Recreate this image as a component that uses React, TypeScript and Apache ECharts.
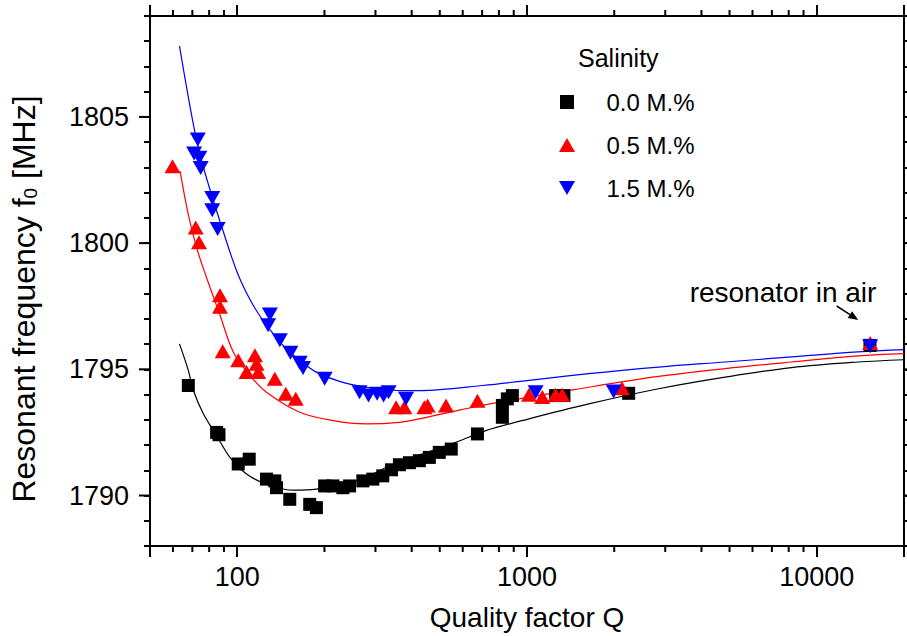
import React, { useEffect, useRef } from 'react';
import * as echarts from 'echarts';

// ---------- data ----------
// Salinity 0.0 M.% (black squares)
const Q_00 = [67.8, 84.9, 86.5, 100.8, 110.0, 126.2, 134.8, 136.6, 151.8, 177.9, 187.6, 200.3, 213.9, 231.5, 244.2, 271.3, 293.7, 317.9, 340.6, 362.8, 392.8, 425.1, 460.2, 498.1, 547.8, 674.5, 822.2, 822.2, 855.3, 890.2, 1255, 1341, 2243, 15260];
const F_00 = [1794.36, 1792.50, 1792.41, 1791.25, 1791.44, 1790.65, 1790.58, 1790.31, 1789.85, 1789.65, 1789.52, 1790.38, 1790.38, 1790.31, 1790.38, 1790.58, 1790.65, 1790.78, 1791.02, 1791.22, 1791.30, 1791.38, 1791.51, 1791.71, 1791.84, 1792.44, 1793.10, 1793.57, 1793.83, 1793.96, 1793.96, 1793.96, 1794.05, 1795.95];
// Salinity 0.5 M.% (red triangles)
const Q_05 = [59.8, 71.9, 73.8, 87.2, 87.2, 89.1, 100.8, 107.7, 115.1, 116.6, 118.1, 134.8, 147.1, 159.2, 353.4, 377.5, 442.3, 453.9, 525.3, 674.5, 1016, 1129, 1255, 1322, 2127, 15290];
const F_05 = [1803.05, 1800.62, 1800.04, 1797.94, 1797.48, 1795.72, 1795.36, 1794.89, 1795.56, 1795.22, 1794.89, 1794.63, 1794.03, 1793.83, 1793.50, 1793.50, 1793.50, 1793.57, 1793.57, 1793.76, 1793.99, 1793.90, 1793.99, 1793.99, 1794.25, 1796.04];
// Salinity 1.5 M.% (blue inverted triangles)
const Q_15 = [73.1, 71.0, 74.0, 74.8, 82.0, 82.0, 85.6, 129.6, 127.8, 140.3, 152.6, 164.3, 168.7, 200.3, 264.3, 283.8, 303.9, 319.9, 333.0, 382.5, 1071, 1991, 15290];
const F_15 = [1804.11, 1803.55, 1803.38, 1802.98, 1801.79, 1801.30, 1800.56, 1797.17, 1796.75, 1796.15, 1795.66, 1795.26, 1795.05, 1794.63, 1794.09, 1793.96, 1794.03, 1793.96, 1794.09, 1793.83, 1794.09, 1794.12, 1795.91];

// fitted curves
const FIT_Q_00 = [63.2, 67.8, 70.6, 76.4, 84.9, 94.4, 107.7, 126.2, 155.8, 187.6, 244.2, 301.6, 335.2, 568.5, 721.0, 1016, 1634, 2845, 4827, 8178, 13875, 20000];
const FIT_F_00 = [1796.01, 1794.96, 1794.16, 1793.24, 1792.37, 1791.51, 1790.85, 1790.45, 1790.21, 1790.25, 1790.51, 1790.91, 1791.18, 1792.11, 1792.57, 1793.04, 1793.63, 1794.23, 1794.69, 1795.07, 1795.29, 1795.38];
const FIT_Q_05 = [63.5, 67.8, 72.5, 78.5, 87.2, 96.9, 110.6, 126.2, 164.3, 213.9, 278.7, 362.8, 425.1, 702, 1634, 2845, 4827, 8178, 13875, 20000];
const FIT_F_05 = [1802.85, 1801.13, 1799.80, 1798.61, 1797.15, 1795.69, 1794.76, 1794.09, 1793.30, 1792.97, 1792.84, 1792.90, 1793.04, 1793.57, 1794.29, 1794.72, 1795.03, 1795.29, 1795.53, 1795.62];
const FIT_Q_15 = [63.2, 71.5, 77.4, 89.5, 100.8, 113.5, 126.2, 143.9, 164.3, 187.6, 225.5, 278.7, 362.8, 425.1, 702, 1634, 2845, 4827, 8178, 13875, 20000];
const FIT_F_15 = [1807.82, 1804.38, 1802.79, 1800.46, 1798.74, 1797.54, 1796.75, 1795.95, 1795.36, 1794.89, 1794.52, 1794.29, 1794.16, 1794.16, 1794.36, 1794.83, 1795.09, 1795.29, 1795.49, 1795.69, 1795.78];

const SERIES_NAMES = ['0.0 M.%', '0.5 M.%', '1.5 M.%'];
const SERIES_COLORS = ['#000000', '#ff0000', '#0000ff'];
const X_MIN = 50;
const X_MAX = 20000;
const Y_MIN = 1788;
const Y_MAX = 1809;
const MINOR_X_TICKS = [60, 70, 80, 90, 200, 300, 400, 500, 600, 700, 800, 900, 2000, 3000, 4000, 5000, 6000, 7000, 8000, 9000];
const MAJOR_Y_TICKS = [1790, 1795, 1800, 1805];

const FONT = '"Liberation Sans", Arial, Helvetica, sans-serif';
const SQUARE = 'path://M0,0L10,0L10,10L0,10Z';
const TRI_UP = 'path://M8,0L16,14L0,14Z';
const TRI_DOWN = 'path://M0,0L16,0L8,14Z';

const zip = (a: number[], b: number[]) => a.map((v, i) => [v, b[i]]);

const axisLineStyle = { show: true, onZero: false, lineStyle: { color: '#000', width: 2 } };

export default function App() {
  const ref = useRef<HTMLDivElement>(null);
  useEffect(() => {
    if (!ref.current) return;
    const chart = echarts.init(ref.current, undefined, { renderer: 'svg' });
    const xFormatter = (v: number) => {
      const l = Math.log10(v);
      return Math.abs(l - Math.round(l)) < 1e-6 ? String(Math.round(v)) : '';
    };
    const yFormatter = (v: number) => (Math.abs(v % 5) < 1e-6 ? String(v) : '');
    const option: any = {
      animation: false,
      backgroundColor: '#ffffff',
      textStyle: { fontFamily: FONT },
      title: {
        text: 'Salinity',
        left: 578,
        top: 45,
        padding: 0,
        textStyle: { fontSize: 25, fontWeight: 'normal', color: '#000', fontFamily: FONT },
      },
      legend: {
        orient: 'vertical',
        left: 559,
        top: 90,
        padding: 0,
        itemWidth: 69,
        itemHeight: 14,
        itemGap: 19,
        selectedMode: false,
        symbolKeepAspect: true,
        textStyle: { fontSize: 24, color: '#000', fontFamily: FONT },
        data: [
          { name: SERIES_NAMES[0], icon: SQUARE },
          { name: SERIES_NAMES[1], icon: TRI_UP },
          { name: SERIES_NAMES[2], icon: TRI_DOWN },
        ],
      },
      grid: { left: 150, top: 16, width: 756, height: 530 },
      xAxis: [
        {
          type: 'log',
          logBase: 10,
          min: X_MIN,
          max: X_MAX,
          position: 'bottom',
          name: 'Quality factor Q',
          nameLocation: 'middle',
          nameGap: 57,
          nameTextStyle: { fontSize: 28, color: '#000', fontFamily: FONT },
          axisLine: axisLineStyle,
          axisTick: { show: true, inside: false, length: 11, lineStyle: { color: '#000', width: 2 } },
          axisLabel: { fontSize: 27, color: '#000', margin: 17, formatter: xFormatter, fontFamily: FONT },
          splitLine: { show: false },
          minorTick: { show: false },
        },
        {
          type: 'log',
          logBase: 10,
          min: X_MIN,
          max: X_MAX,
          position: 'top',
          axisLine: axisLineStyle,
          axisTick: { show: true, inside: false, length: 11, lineStyle: { color: '#000', width: 2 } },
          axisLabel: { show: false },
          splitLine: { show: false },
        },
      ],
      yAxis: [
        {
          type: 'value',
          min: Y_MIN,
          max: Y_MAX,
          interval: 1,
          position: 'left',
          axisLine: axisLineStyle,
          axisTick: { show: true, inside: false, length: 6, lineStyle: { color: '#000', width: 2 } },
          axisLabel: { fontSize: 27, color: '#000', margin: 21, formatter: yFormatter, fontFamily: FONT },
          splitLine: { show: false },
          name: 'Resonant frequency f{sub|0} [MHz]',
          nameLocation: 'middle',
          nameGap: 110,
          nameRotate: 90,
          nameTextStyle: {
            fontSize: 32,
            color: '#000',
            fontFamily: FONT,
            padding: [0, 36, 0, 0],
            rich: {
              sub: { fontSize: 19, lineHeight: 25, verticalAlign: 'bottom', color: '#000', fontFamily: FONT },
            },
          },
        },
        {
          type: 'value',
          min: Y_MIN,
          max: Y_MAX,
          interval: 1,
          position: 'right',
          axisLine: axisLineStyle,
          axisTick: { show: true, inside: false, length: 6, lineStyle: { color: '#000', width: 2 } },
          axisLabel: { show: false },
          splitLine: { show: false },
        },
      ],
      graphic: [
        {
          type: 'text',
          x: 783,
          y: 292,
          style: {
            text: 'resonator in air',
            fontSize: 28,
            fontFamily: FONT,
            fill: '#000',
            align: 'center',
            verticalAlign: 'middle',
          },
        },
        {
          type: 'line',
          shape: { x1: 836.7, y1: 306, x2: 850, y2: 314.6 },
          style: { stroke: '#000', lineWidth: 1.5 },
        },
        {
          type: 'polygon',
          shape: { points: [[858.3, 320], [852.1, 311.2], [847.7, 318.0]] },
          style: { fill: '#000' },
        },
      ],
      series: [
        {
          type: 'custom',
          name: 'minorXTicks',
          silent: true,
          clip: false,
          xAxisIndex: 0,
          yAxisIndex: 0,
          z: 5,
          data: MINOR_X_TICKS.map((v) => [v, Y_MIN]),
          encode: { x: 0, y: 1 },
          renderItem: (params: any, api: any) => {
            const v = api.value(0);
            const b = api.coord([v, Y_MIN]);
            const t = api.coord([v, Y_MAX]);
            return {
              type: 'group',
              children: [
                { type: 'line', shape: { x1: b[0], y1: b[1], x2: b[0], y2: b[1] + 6 }, style: { stroke: '#000', lineWidth: 2 } },
                { type: 'line', shape: { x1: t[0], y1: t[1], x2: t[0], y2: t[1] - 6 }, style: { stroke: '#000', lineWidth: 2 } },
              ],
            };
          },
        },
        {
          type: 'custom',
          name: 'majorYTicks',
          silent: true,
          clip: false,
          xAxisIndex: 0,
          yAxisIndex: 0,
          z: 5,
          data: MAJOR_Y_TICKS.map((v) => [X_MIN, v]),
          encode: { x: 0, y: 1 },
          renderItem: (params: any, api: any) => {
            const v = api.value(1);
            const l = api.coord([X_MIN, v]);
            const r = api.coord([X_MAX, v]);
            return {
              type: 'group',
              children: [
                { type: 'line', shape: { x1: l[0] - 11, y1: l[1], x2: l[0], y2: l[1] }, style: { stroke: '#000', lineWidth: 2 } },
                { type: 'line', shape: { x1: r[0], y1: r[1], x2: r[0] + 11, y2: r[1] }, style: { stroke: '#000', lineWidth: 2 } },
              ],
            };
          },
        },
        {
          type: 'line',
          name: 'fit 0.0',
          data: zip(FIT_Q_00, FIT_F_00),
          showSymbol: false,
          symbol: 'none',
          smooth: 0.35,
          silent: true,
          z: 1,
          lineStyle: { color: SERIES_COLORS[0], width: 1.2 },
        },
        {
          type: 'line',
          name: 'fit 0.5',
          data: zip(FIT_Q_05, FIT_F_05),
          showSymbol: false,
          symbol: 'none',
          smooth: 0.35,
          silent: true,
          z: 1,
          lineStyle: { color: SERIES_COLORS[1], width: 1.2 },
        },
        {
          type: 'line',
          name: 'fit 1.5',
          data: zip(FIT_Q_15, FIT_F_15),
          showSymbol: false,
          symbol: 'none',
          smooth: 0.35,
          silent: true,
          z: 1,
          lineStyle: { color: SERIES_COLORS[2], width: 1.2 },
        },
        {
          type: 'scatter',
          name: SERIES_NAMES[0],
          data: zip(Q_00, F_00),
          symbol: 'rect',
          symbolSize: 13,
          z: 3,
          itemStyle: { color: SERIES_COLORS[0], opacity: 1 },
        },
        {
          type: 'scatter',
          name: SERIES_NAMES[1],
          data: zip(Q_05, F_05),
          symbol: 'triangle',
          symbolSize: [16, 14],
          z: 3,
          itemStyle: { color: SERIES_COLORS[1], opacity: 1 },
        },
        {
          type: 'scatter',
          name: SERIES_NAMES[2],
          data: zip(Q_15, F_15),
          symbol: TRI_DOWN,
          symbolSize: [16, 14],
          z: 3,
          itemStyle: { color: SERIES_COLORS[2], opacity: 1 },
        },
      ],
    };
    chart.setOption(option);
    return () => chart.dispose();
  }, []);
  return (
    <div
      ref={ref}
      style={{ position: 'absolute', left: 0, top: 0, width: 907, height: 636, background: '#fff' }}
    />
  );
}
